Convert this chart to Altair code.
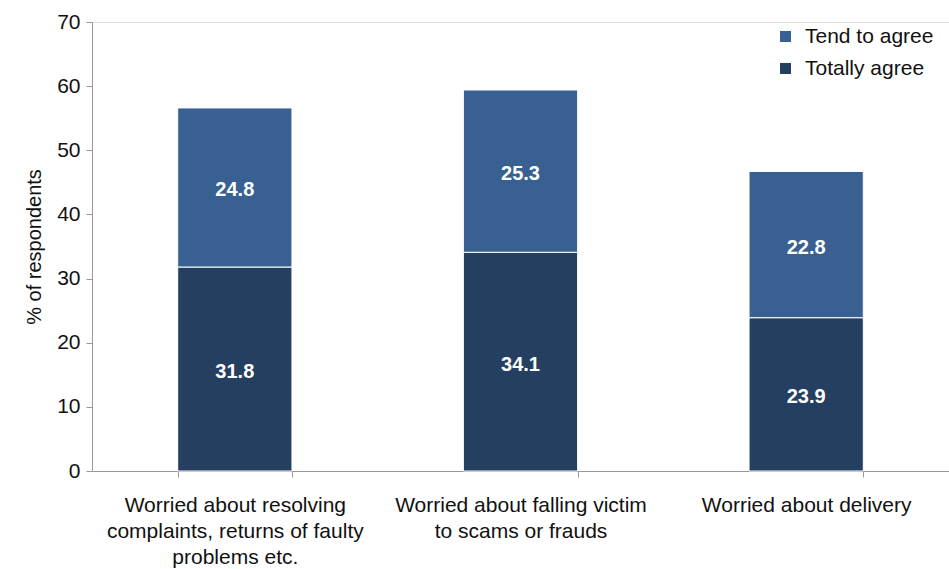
import altair as alt
import pandas as pd

categories = [
    "Worried about resolving|complaints, returns of faulty|problems etc.",
    "Worried about falling victim|to scams or frauds",
    "Worried about delivery",
]
totally_agree = [31.8, 34.1, 23.9]
tend_to_agree = [24.8, 25.3, 22.8]
series = ["Tend to agree", "Totally agree"]
colors = ["#386192", "#253F60"]

rows = []
for c, t, d in zip(categories, totally_agree, tend_to_agree):
    rows.append({"cat": c, "series": "Totally agree", "value": t, "ord": 0})
    rows.append({"cat": c, "series": "Tend to agree", "value": d, "ord": 1})
df = pd.DataFrame(rows)

FONT = "Liberation Sans"

base = alt.Chart(df).transform_stack(
    stack="value", groupby=["cat"], sort=[alt.SortField("ord")], as_=["y0", "y1"]
).transform_calculate(mid="(datum.y0 + datum.y1) / 2")

x_enc = alt.X(
    "cat:N",
    sort=categories,
    title=None,
    scale=alt.Scale(paddingInner=0.6, paddingOuter=0.3),
    axis=alt.Axis(
        labelExpr="split(datum.label, '|')",
        labelAngle=0,
        labelFont=FONT,
        labelFontSize=21,
        labelColor="#111111",
        labelLineHeight=26,
        labelPadding=17,
        tickBand="extent",
        tickSize=6,
        tickColor="#999999",
        domainColor="#999999",
        labelLimit=400,
    ),
)

bars = base.mark_bar(stroke="white", strokeWidth=1).encode(
    x=x_enc,
    y=alt.Y(
        "y0:Q",
        scale=alt.Scale(domain=[0, 70]),
        title="% of respondents",
        axis=alt.Axis(
            values=[0, 10, 20, 30, 40, 50, 60, 70],
            grid=False,
            labelFont=FONT,
            labelFontSize=21,
            labelColor="#111111",
            tickSize=6,
            tickColor="#999999",
            domainColor="#999999",
            labelPadding=6,
            titleFont=FONT,
            titleFontSize=20,
            titleFontWeight="normal",
            titleColor="#111111",
            titlePadding=12,
        ),
    ),
    y2="y1:Q",
    color=alt.Color(
        "series:N",
        scale=alt.Scale(domain=series, range=colors),
        legend=alt.Legend(
            title=None,
            orient="none",
            legendX=683,
            legendY=4,
            symbolType="square",
            symbolSize=121,
            symbolStrokeWidth=0,
            labelFont=FONT,
            labelFontSize=21,
            labelColor="#111111",
            rowPadding=10,
            labelOffset=9,
        ),
    ),
    order=alt.Order("ord:Q"),
)

labels = base.mark_text(
    color="white", font=FONT, fontSize=20, fontWeight="bold", dy=3
).encode(
    x=alt.X("cat:N", sort=categories),
    y=alt.Y("mid:Q"),
    text=alt.Text("value:Q", format=".1f"),
)

chart = (
    alt.layer(bars, labels)
    .properties(
        width=857,
        height=449,
        autosize=alt.AutoSizeParams(type="none"),
        padding={"left": 92, "top": 22, "right": 0, "bottom": 98},
    )
    .configure_view(stroke=None)
    .configure(background="white")
)

chart.save("out.html", embed_options={"renderer": "svg", "actions": False})
